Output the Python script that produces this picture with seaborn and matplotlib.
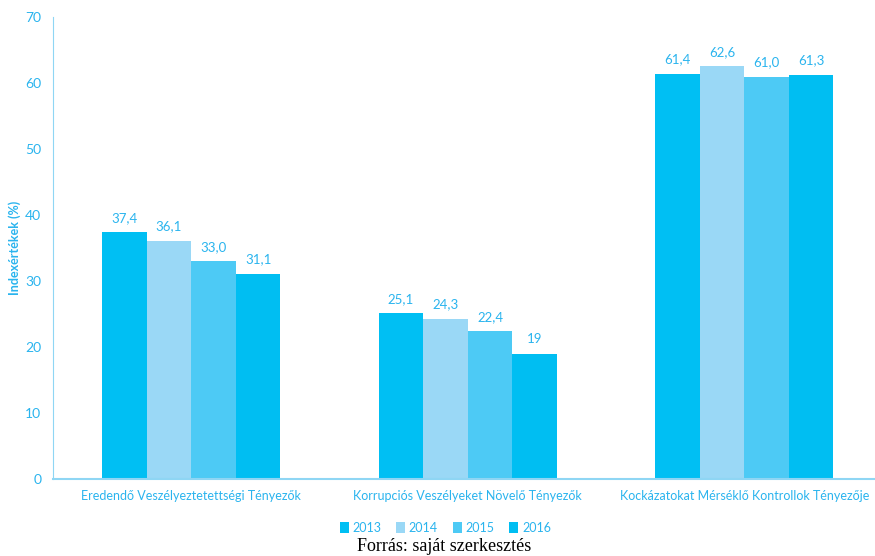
import matplotlib
matplotlib.use('Agg')
import matplotlib.pyplot as plt
import seaborn as sns
import pandas as pd

# Categories and yearly index values
categories = ['Eredendő Veszélyeztetettségi Tényezők',
              'Korrupciós Veszélyeket Növelő Tényezők',
              'Kockázatokat Mérséklő Kontrollok Tényezője']
years = ['2013', '2014', '2015', '2016']
values_2013 = [37.4, 25.1, 61.4]
values_2014 = [36.1, 24.3, 62.6]
values_2015 = [33.0, 22.4, 61.0]
values_2016 = [31.1, 19.0, 61.3]
value_labels = {
    '2013': ['37,4', '25,1', '61,4'],
    '2014': ['36,1', '24,3', '62,6'],
    '2015': ['33,0', '22,4', '61,0'],
    '2016': ['31,1', '19', '61,3'],
}
colors = ['#00BFF3', '#9AD8F6', '#4DCAF5', '#00BEF2']

series = [values_2013, values_2014, values_2015, values_2016]
df = pd.DataFrame([
    {'category': c, 'year': y, 'value': v}
    for y, vals in zip(years, series)
    for c, v in zip(categories, vals)
])

sns.set_style('white')
plt.rcParams['font.family'] = ['Lato', 'DejaVu Sans']
text_col = '#2AB4EE'
axis_col = '#8FD6F4'

fig = plt.figure(figsize=(8.75, 5.56), dpi=100)
ax = fig.add_axes([0.0606, 0.1385, 0.948, 0.8305])

sns.barplot(data=df, x='category', y='value', hue='year', order=categories,
            hue_order=years, palette=colors, width=0.645, gap=0,
            saturation=1, linewidth=0, ax=ax, legend=True)

for cont, y in zip(ax.containers, years):
    ax.bar_label(cont, labels=value_labels[y], padding=6, fontsize=9.5, color=text_col)

ax.set_ylim(0, 70)
ax.set_yticks(range(0, 71, 10))
ax.set_xlim(-0.5, 2.5)
ax.set_xlabel('')
ax.set_ylabel('Indexértékek (%)', fontsize=9, fontweight='bold', color=text_col, labelpad=3)
ax.tick_params(axis='y', colors=axis_col, labelcolor=text_col, labelsize=10, length=5, width=1)
ax.tick_params(axis='x', which='major', length=0, labelcolor=text_col, labelsize=9, pad=8)
ax.set_xticks([0.5, 1.5], minor=True)
ax.tick_params(axis='x', which='minor', length=6, color=axis_col, width=1)
for s in ['top', 'right']:
    ax.spines[s].set_visible(False)
ax.spines['left'].set_color(axis_col)
ax.spines['bottom'].set_color(axis_col)
ax.spines['bottom'].set_linewidth(1.5)

leg = ax.legend(loc='center', bbox_to_anchor=(0.473, -0.106),
                ncol=4, frameon=False, fontsize=9, handlelength=0.7, handleheight=0.9,
                handletextpad=0.3, columnspacing=1.2)
for t in leg.get_texts():
    t.set_color(text_col)

fig.text(0.508, 0.009, 'Forrás: saját szerkesztés', ha='center', va='baseline',
         fontsize=13, family='Liberation Serif', color='black')

fig.savefig('out.png', dpi=100)
